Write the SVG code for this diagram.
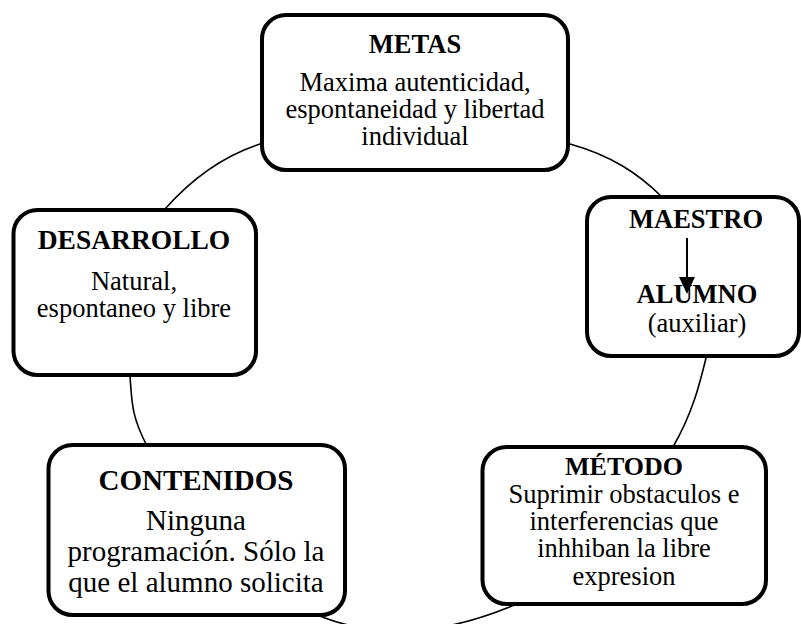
<svg xmlns="http://www.w3.org/2000/svg" width="801" height="624" viewBox="0 0 801 624">
<defs>
<style>
.box{fill:#fff;stroke:#000;stroke-width:4}
.ring{fill:none;stroke:#000;stroke-width:1.6}
text{font-family:"Liberation Serif","Times New Roman",serif;fill:#000;text-anchor:middle}
.t{font-weight:bold}
</style>
</defs>
<rect width="801" height="624" fill="#fff"/>
<g id="connectors">
<path class="ring" d="M415,128 C466.7,128 528.8,132.5 570,144 C611.2,155.5 638.3,173.5 662,197 C685.7,220.5 704.7,258.2 712,285 C719.3,311.8 712.5,331 706,358 C699.5,385 692.3,413.3 673,447 C653.7,480.7 617.7,533.2 590,560 C562.3,586.8 536.2,596.3 507,608 C477.8,619.7 445.3,628.3 415,630 C384.7,631.7 356.7,629.7 325,618 C293.3,606.3 254.7,588.7 225,560 C195.3,531.3 162.8,476.7 147,446 C131.2,415.3 132,402.8 130,376 C128,349.2 129.2,312.8 135,285 C140.8,257.2 144.2,232.5 165,209 C185.8,185.5 218.3,157.5 260,144 C301.7,130.5 363.3,128 415,128 Z"/>
</g>
<g id="metas">
<rect class="box" x="262" y="15" width="306" height="155" rx="24"/>
<text class="t" x="415" y="53" font-size="26.5">METAS</text>
<text x="415" y="91" font-size="26.5">Maxima autenticidad,</text>
<text x="415" y="118" font-size="26.5">espontaneidad y libertad</text>
<text x="415" y="145" font-size="26.5">individual</text>
</g>
<g id="desarrollo">
<rect class="box" x="13.5" y="210" width="242.5" height="165" rx="24"/>
<text class="t" x="134" y="249" font-size="27.5">DESARROLLO</text>
<text x="134" y="290" font-size="26.5">Natural,</text>
<text x="134" y="317" font-size="26.5">espontaneo y libre</text>
</g>
<g id="maestro">
<rect class="box" x="587" y="197" width="212" height="159" rx="24"/>
<text class="t" x="696" y="228" font-size="26.5">MAESTRO</text>
<line x1="687" y1="238" x2="687" y2="280" stroke="#000" stroke-width="2"/>
<polygon points="679,277 695,277 687,294" fill="#000"/>
<text class="t" x="697" y="303" font-size="26.5">ALUMNO</text>
<text x="697" y="332" font-size="26.5">(auxiliar)</text>
</g>
<g id="contenidos">
<rect class="box" x="48.5" y="445" width="296.5" height="170" rx="24"/>
<text class="t" x="196" y="490" font-size="29">CONTENIDOS</text>
<text x="196" y="530" font-size="29">Ninguna</text>
<text x="196" y="561" font-size="29">programación. Sólo la</text>
<text x="196" y="592" font-size="29">que el alumno solicita</text>
</g>
<g id="metodo">
<rect class="box" x="482.5" y="447" width="283.5" height="157" rx="24"/>
<text class="t" x="624" y="475" font-size="26">MÉTODO</text>
<text x="624" y="503" font-size="26.5">Suprimir obstaculos e</text>
<text x="624" y="530" font-size="26.5">interferencias que</text>
<text x="624" y="557" font-size="26.5">inhhiban la libre</text>
<text x="624" y="585" font-size="26.5">expresion</text>
</g>
</svg>
